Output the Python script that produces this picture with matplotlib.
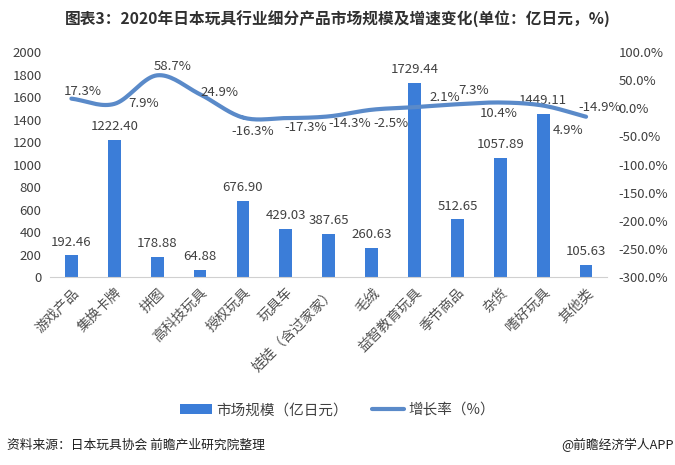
import matplotlib.pyplot as plt
import numpy as np

plt.rcParams['font.family'] = ['Noto Sans CJK SC', 'DejaVu Sans']

categories = ['游戏产品', '集换卡牌', '拼图', '高科技玩具', '授权玩具', '玩具车', '娃娃（含过家家）',
              '毛绒', '益智教育玩具', '季节商品', '杂货', '嗜好玩具', '其他类']
market_size = [192.46, 1222.40, 178.88, 64.88, 676.90, 429.03, 387.65,
               260.63, 1729.44, 512.65, 1057.89, 1449.11, 105.63]
growth = [17.3, 7.9, 58.7, 24.9, -16.3, -17.3, -14.3, -2.5, 2.1, 7.3, 10.4, 4.9, -14.9]
# label offsets (points) for the growth labels
growth_offsets = [(8, 5), (21, 0), (11, 6), (14, 1), (7, -10), (14, -7), (15, -5),
                  (14, -10), (22, 7), (12, 10), (-1, -8), (18, -18), (10, 7)]

bar_color = '#3b7dd8'
line_color = '#5a8ac9'
text_color = '#404040'


def smooth(xs, ys, n=20):
    # Catmull-Rom curve through the points (like Excel smoothed lines)
    xs = np.asarray(xs, float)
    ys = np.asarray(ys, float)
    px = np.concatenate([[2 * xs[0] - xs[1]], xs, [2 * xs[-1] - xs[-2]]])
    py = np.concatenate([[2 * ys[0] - ys[1]], ys, [2 * ys[-1] - ys[-2]]])
    out_x, out_y = [], []
    t = np.linspace(0, 1, n)
    for i in range(1, len(px) - 2):
        for arr, out in ((px, out_x), (py, out_y)):
            p0, p1, p2, p3 = arr[i - 1], arr[i], arr[i + 1], arr[i + 2]
            seg = 0.5 * ((2 * p1) + (-p0 + p2) * t + (2 * p0 - 5 * p1 + 4 * p2 - p3) * t ** 2
                         + (-p0 + 3 * p1 - 3 * p2 + p3) * t ** 3)
            out.extend(seg)
    return out_x, out_y


fig = plt.figure(figsize=(6.75, 4.65), dpi=100)
ax = fig.add_axes([0.074, 0.404, 0.826, 0.484])
x = np.arange(len(categories))
ax.bar(x, market_size, width=0.3, color=bar_color, label='市场规模（亿日元）', zorder=2)
for xi, v in zip(x, market_size):
    ax.annotate(f'{v:.2f}', (xi, v), xytext=(0, 5), textcoords='offset points',
                ha='center', va='bottom', fontsize=9.5, color=text_color)

ax.set_xlim(-0.5, len(categories) - 0.5)
ax.set_ylim(0, 2000)
ax.set_yticks(range(0, 2001, 200))
ax.set_xticks(x)
ax.set_xticklabels(categories, rotation=45, ha='right', rotation_mode='anchor',
                   fontsize=10, color='#505050')
ax.tick_params(axis='y', labelsize=9.5, labelcolor=text_color, length=0, pad=6)
ax.tick_params(axis='x', length=0, pad=6)
for s in ['top', 'right', 'left']:
    ax.spines[s].set_visible(False)
ax.spines['bottom'].set_color('#d0d0d0')

ax2 = ax.twinx()
sx, sy = smooth(x, growth)
ax2.plot(sx, sy, color=line_color, lw=3, label='增长率（%）', solid_capstyle='round', zorder=3)
for xi, g, off in zip(x, growth, growth_offsets):
    ax2.annotate(f'{g:.1f}%', (xi, g), xytext=off, textcoords='offset points',
                 ha='center', va='center', fontsize=9.5, color=text_color)
ax2.set_ylim(-300, 100)
ax2.set_yticks(range(-300, 101, 50))
ax2.set_yticklabels([f'{v:.1f}%' for v in range(-300, 101, 50)])
ax2.tick_params(axis='y', labelsize=9.5, labelcolor=text_color, length=0, pad=8)
for s in ['top', 'right', 'left', 'bottom']:
    ax2.spines[s].set_visible(False)

fig.text(0.5, 0.958, '图表3：2020年日本玩具行业细分产品市场规模及增速变化(单位：亿日元，%)',
         ha='center', va='center', fontsize=11.3, fontweight='bold', color='#303030')

h1, l1 = ax.get_legend_handles_labels()
h2, l2 = ax2.get_legend_handles_labels()
fig.legend(h1 + h2, l1 + l2, loc='center', bbox_to_anchor=(0.5, 0.118), ncol=2,
           frameon=False, fontsize=10.5, handlelength=2.2, handletextpad=0.3,
           columnspacing=1.6, labelcolor=text_color)

fig.text(0.011, 0.043, '资料来源：日本玩具协会 前瞻产业研究院整理', ha='left', va='center',
         fontsize=9.2, color='#202020')
fig.text(0.998, 0.043, '@前瞻经济学人APP', ha='right', va='center',
         fontsize=9.2, color='#202020')

fig.savefig('out.png', dpi=100)
